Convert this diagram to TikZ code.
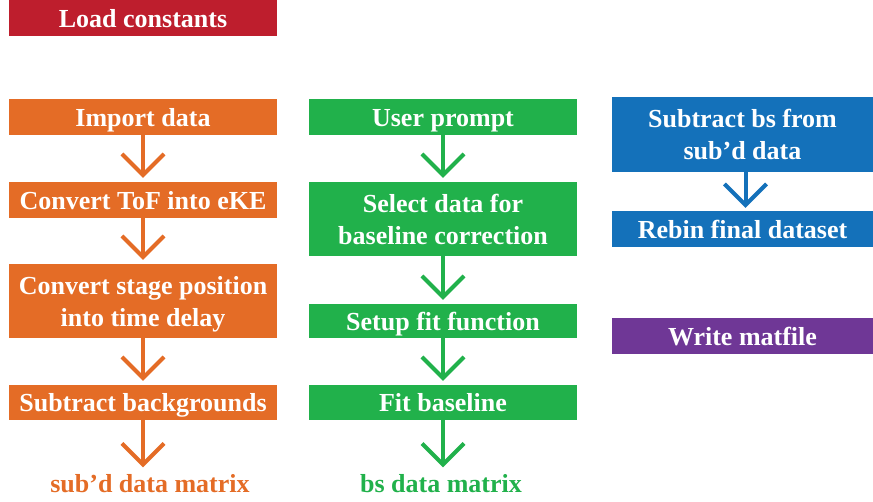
\documentclass[tikz,border=0pt]{standalone}
\usepackage{fontspec}
\setmainfont{Liberation Serif}
\usepackage{tikz}
\usetikzlibrary{arrows.meta}
\definecolor{redbox}{HTML}{BE1E2D}
\definecolor{orangebox}{HTML}{E46C26}
\definecolor{greenbox}{HTML}{21B14B}
\definecolor{bluebox}{HTML}{1471BA}
\definecolor{purplebox}{HTML}{6F3796}
\tikzstyle{flowarrow} = [line width=4pt,-{Straight Barb[length=21pt,width=42pt,line width=4pt]},shorten >=4pt]

\begin{document}
\begin{tikzpicture}[x=1pt, y=-1pt, box/.style={rectangle, inner sep=0pt, minimum width=268pt, minimum height=36pt, text height=22pt, text depth=4pt, text=white, align=center, font=\fontsize{26}{32}\selectfont\bfseries}, twoline/.style={text height=54pt}]
        \useasboundingbox (0,0) rectangle (873,501);
        % Node positions
        \node[box, fill=redbox] (load) at (143,18) {Load constants};

        \node[box, fill=orangebox] (import) at (143,117) {Import data};
        \node[box, fill=orangebox] (tof) at (143,200) {Convert ToF into eKE};
        \node[box, twoline, fill=orangebox, minimum height=74pt] (stage) at (143,301) {Convert stage position\\into time delay};
        \node[box, fill=orangebox, minimum height=35pt] (bgsub) at (143,402.5) {Subtract backgrounds};
        \node[text=orangebox, font=\fontsize{26}{32}\selectfont\bfseries] (subd) at (150,484) {sub’d data matrix};

        \node[box, fill=greenbox] (prompt) at (443,117) {User prompt};
        \node[box, twoline, fill=greenbox, minimum height=74pt] (select) at (443,219) {Select data for\\baseline correction};
        \node[box, fill=greenbox, minimum height=34pt] (setup) at (443,321) {Setup fit function};
        \node[box, fill=greenbox, minimum height=35pt] (fit) at (443,402.5) {Fit baseline};
        \node[text=greenbox, font=\fontsize{26}{32}\selectfont\bfseries] (bsmat) at (441,484) {bs data matrix};

        \node[box, twoline, fill=bluebox, minimum width=261pt, minimum height=75pt] (bssub) at (742.5,134.5) {Subtract bs from\\sub’d data};
        \node[box, fill=bluebox, minimum width=261pt] (rebin) at (742.5,229) {Rebin final dataset};
        \node[box, fill=purplebox, minimum width=261pt] (write) at (742.5,336) {Write matfile};

        \draw[flowarrow, orangebox] (import) -- (tof);
        \draw[flowarrow, orangebox] (tof) -- (stage);
        \draw[flowarrow, orangebox] (stage) -- (bgsub);
        \draw[flowarrow, orangebox] (bgsub.south) -- (bgsub.south |- subd.north);

        \draw[flowarrow, greenbox] (prompt) -- (select);
        \draw[flowarrow, greenbox] (select) -- (setup);
        \draw[flowarrow, greenbox] (setup) -- (fit);
        \draw[flowarrow, greenbox] (fit.south) -- (fit.south |- bsmat.north);

        \draw[flowarrow, bluebox, shorten >=3pt] (bssub.south) ++(3,0) coordinate (bsfoot) -- (bsfoot |- rebin.north);
      \end{tikzpicture}
\end{document}
